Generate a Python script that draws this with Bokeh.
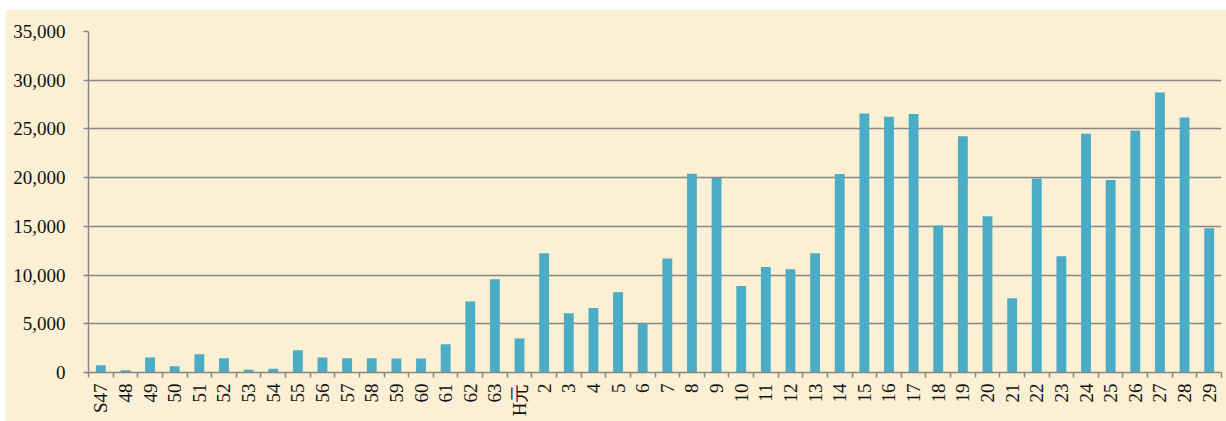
import numpy as np
from bokeh.plotting import figure
from bokeh.models import FixedTicker, NumeralTickFormatter, Range1d, ColumnDataSource
from bokeh.embed import file_html
from bokeh.resources import INLINE

labels = ["S47", "48", "49", "50", "51", "52", "53", "54", "55", "56", "57", "58", "59", "60",
          "61", "62", "63", "H元", "2", "3", "4", "5", "6", "7", "8", "9", "10", "11", "12", "13",
          "14", "15", "16", "17", "18", "19", "20", "21", "22", "23", "24", "25", "26", "27", "28", "29"]
values = [750, 240, 1540, 650, 1880, 1470, 270, 380, 2290, 1540, 1470, 1470, 1435, 1435,
          2900, 7280, 9570, 3490, 12240, 6080, 6630, 8240, 5020, 11690, 20400, 19960, 8890, 10830, 10590, 12240,
          20370, 26590, 26250, 26520, 15100, 24260, 16030, 7620, 19920, 11930, 24500, 19750, 24850, 28740, 26180, 14800]
y_ticks = [0, 5000, 10000, 15000, 20000, 25000, 30000, 35000]

n = len(labels)
centers = [i + 0.5 for i in range(n)]
bounds = [float(i) for i in range(n + 1)]

bg = "#FBEFD4"
grid = "#878787"

p = figure(width=1221, height=412, output_backend="svg", toolbar_location=None,
           x_range=Range1d(0, n), y_range=Range1d(0, 35000),
           min_border_left=83, min_border_right=5, min_border_top=22, min_border_bottom=49)
p.margin = (9, 0, 0, 5)
p.background_fill_color = bg
p.border_fill_color = bg
p.outline_line_color = None

src = ColumnDataSource(dict(x=centers, top=values))
p.vbar(x="x", top="top", width=0.4, bottom=0, source=src, fill_color="#4BACC6", line_color=None)

# x axis
xa = p.xaxis[0]
xa.ticker = FixedTicker(ticks=centers, minor_ticks=bounds)
xa.major_label_overrides = {c: l for c, l in zip(centers, labels)}
xa.major_tick_line_color = None
xa.minor_tick_out = 5
xa.minor_tick_in = 0
xa.minor_tick_line_color = grid
xa.minor_tick_line_width = 1.5
xa.axis_line_color = grid
xa.axis_line_width = 1.5
xa.major_label_orientation = np.pi / 2
xa.major_label_text_font = "Liberation Serif"
xa.major_label_text_font_size = "19px"
xa.major_label_text_color = "#111111"
xa.major_label_standoff = 5

# y axis
ya = p.yaxis[0]
ya.ticker = FixedTicker(ticks=y_ticks)
ya.formatter = NumeralTickFormatter(format="0,0")
ya.major_tick_out = 5
ya.major_tick_in = 0
ya.minor_tick_line_color = None
ya.major_tick_line_color = grid
ya.major_tick_line_width = 1.5
ya.axis_line_color = grid
ya.axis_line_width = 1.5
ya.major_label_text_font = "Liberation Serif"
ya.major_label_text_font_size = "19px"
ya.major_label_text_color = "#111111"
ya.major_label_standoff = 18

p.xgrid.grid_line_color = None
p.ygrid.grid_line_color = grid
p.ygrid.grid_line_width = 1.5

open("out.html", "w").write(file_html(p, INLINE))
